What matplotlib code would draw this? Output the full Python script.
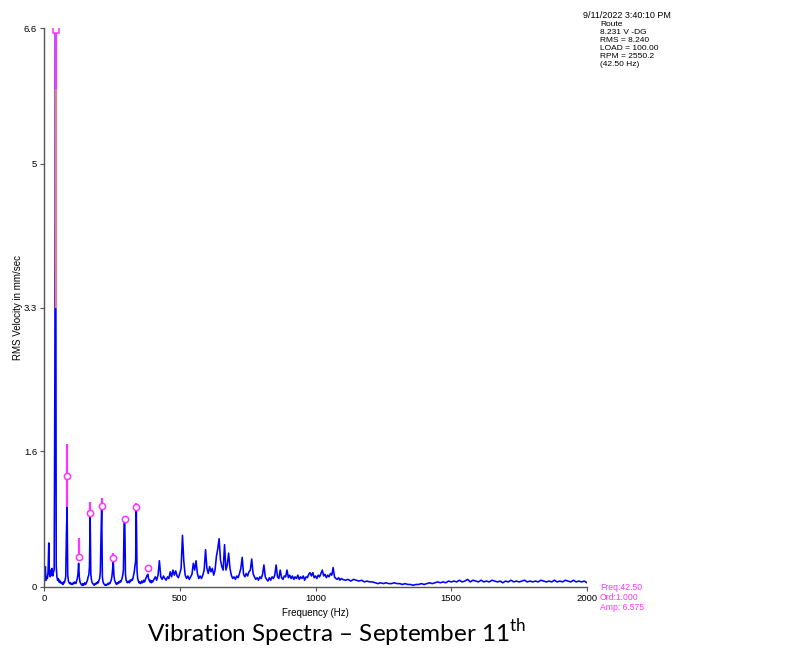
import numpy as np
import matplotlib
matplotlib.use('Agg')
import matplotlib.pyplot as plt

plt.rcParams['font.family'] = ['Liberation Sans', 'DejaVu Sans']
plt.rcParams['mathtext.fontset'] = 'custom'
plt.rcParams['mathtext.rm'] = 'Lato'

# spectrum, 0-400 Hz at 2.5 Hz lines
low_amp = [
    0.02, 0.10, 0.24, 0.08, 0.12, 0.10, 0.18, 0.52, 0.15, 0.12, 0.20, 0.14, 0.22, 0.13, 0.18, 0.20, 2.50, 6.575, 0.25, 0.12,
    0.08, 0.10, 0.06, 0.08, 0.05, 0.06, 0.04, 0.05, 0.03, 0.06, 0.05, 0.08, 0.12, 0.61, 0.94, 0.14, 0.07, 0.05, 0.04, 0.05,
    0.03, 0.04, 0.03, 0.05, 0.04, 0.06, 0.05, 0.04, 0.07, 0.10, 0.15, 0.28, 0.12, 0.06, 0.04, 0.03, 0.02, 0.04, 0.02, 0.03,
    0.05, 0.03, 0.04, 0.06, 0.08, 0.12, 0.14, 0.24, 0.85, 0.15, 0.08, 0.05, 0.04, 0.03, 0.02, 0.04, 0.03, 0.05, 0.04, 0.06,
    0.05, 0.08, 0.10, 0.18, 0.60, 0.95, 0.12, 0.06, 0.04, 0.03, 0.02, 0.03, 0.02, 0.03, 0.04, 0.03, 0.05, 0.04, 0.06, 0.08,
    0.12, 0.20, 0.32, 0.14, 0.08, 0.06, 0.04, 0.03, 0.05, 0.04, 0.06, 0.05, 0.07, 0.06, 0.08, 0.10, 0.14, 0.20, 0.77, 0.79,
    0.15, 0.08, 0.06, 0.05, 0.07, 0.06, 0.05, 0.08, 0.07, 0.09, 0.08, 0.10, 0.14, 0.18, 0.25, 0.30, 0.92, 0.20, 0.10, 0.07,
    0.05, 0.06, 0.04, 0.05, 0.07, 0.05, 0.06, 0.08, 0.06, 0.08, 0.10, 0.12, 0.14, 0.15, 0.10, 0.08, 0.06, 0.08, 0.05, 0.07,
    0.06,
]
low_freq = np.arange(0, 400.1, 2.5)

# 405-1100 Hz, read every 5 Hz
mid_amp = [
    0.09, 0.12, 0.08, 0.14, 0.31, 0.12, 0.09, 0.13, 0.10, 0.08,
    0.12, 0.10, 0.18, 0.12, 0.20, 0.14, 0.19, 0.13, 0.11, 0.16,
    0.22, 0.61, 0.30, 0.14, 0.10, 0.13, 0.09, 0.12, 0.15, 0.28,
    0.20, 0.31, 0.16, 0.10, 0.13, 0.10, 0.14, 0.20, 0.44, 0.22,
    0.16, 0.24, 0.18, 0.22, 0.14, 0.20, 0.36, 0.45, 0.57, 0.32,
    0.24, 0.20, 0.50, 0.20, 0.26, 0.40, 0.22, 0.14, 0.10, 0.12,
    0.09, 0.13, 0.11, 0.16, 0.22, 0.35, 0.15, 0.12, 0.16, 0.13,
    0.18, 0.20, 0.33, 0.16, 0.12, 0.09, 0.11, 0.08, 0.12, 0.10,
    0.15, 0.26, 0.12, 0.09, 0.07, 0.11, 0.08, 0.12, 0.10, 0.14,
    0.26, 0.12, 0.10, 0.20, 0.11, 0.09, 0.13, 0.12, 0.20, 0.11,
    0.14, 0.10, 0.13, 0.09, 0.12, 0.10, 0.14, 0.09, 0.12, 0.10,
    0.13, 0.08, 0.12, 0.11, 0.15, 0.17, 0.13, 0.17, 0.11, 0.13,
    0.10, 0.14, 0.12, 0.16, 0.20, 0.13, 0.15, 0.11, 0.14, 0.12,
    0.16, 0.14, 0.23, 0.12, 0.10, 0.09, 0.11, 0.08, 0.10, 0.09,
]
mid_freq = np.arange(405, 1100.1, 5)

# 1110-2000 Hz, read every 10 Hz
high_amp = [
    0.08, 0.09, 0.07, 0.09, 0.08, 0.07, 0.08, 0.06, 0.07, 0.06,
    0.06, 0.05, 0.04, 0.05, 0.04, 0.05, 0.04, 0.04, 0.05, 0.04,
    0.04, 0.03, 0.04, 0.03, 0.03, 0.02, 0.03, 0.03, 0.04, 0.03,
    0.04, 0.05, 0.04, 0.05, 0.06, 0.05, 0.06, 0.05, 0.07, 0.06,
    0.07, 0.06, 0.08, 0.06, 0.07, 0.09, 0.06, 0.08, 0.07, 0.06,
    0.08, 0.06, 0.07, 0.06, 0.08, 0.07, 0.06, 0.07, 0.05, 0.07,
    0.06, 0.08, 0.06, 0.07, 0.06, 0.07, 0.08, 0.06, 0.07, 0.06,
    0.07, 0.06, 0.08, 0.07, 0.06, 0.07, 0.06, 0.08, 0.06, 0.07,
    0.06, 0.08, 0.07, 0.06, 0.08, 0.06, 0.07, 0.06, 0.07, 0.05,
]
high_freq = np.arange(1110, 2000.1, 10)

# running speed and its harmonics (orders 1..9)
run_speed = 42.5
orders = np.arange(1, 10)
harm_amp = [6.575, 1.31, 0.36, 0.87, 0.96, 0.34, 0.80, 0.94, 0.22]
harm_top = [6.575, 1.69, 0.58, 1.00, 1.05, 0.40, 0.80, 0.99, 0.22]
harm_bot = [5.88, 0.94, 0.36, 0.87, 0.96, 0.34, 0.80, 0.94, 0.22]
main_mid = 3.3   # lower end of the red part of the 1x line

yticks = [0, 1.6, 3.3, 5, 6.6]
ytick_labels = ['0', '1.6', '3.3', '5', '6.6']
xticks = [0, 500, 1000, 1500, 2000]

info_head = '9/11/2022 3:40:10 PM'
info_lines = ['Route', '8.231 V -DG', 'RMS = 8.240', 'LOAD = 100.00', 'RPM = 2550.2', '(42.50 Hz)']
cursor_lines = ['Freq:42.50', 'Ord:1.000', 'Amp: 6.575']

freq = np.concatenate([low_freq, mid_freq, high_freq])
amp = np.concatenate([low_amp, mid_amp, high_amp])

fig = plt.figure(figsize=(7.95, 6.62), dpi=100)
ax = fig.add_axes([44 / 795, 1 - 587 / 662, 543 / 795, 559 / 662])

ax.plot(freq, amp, color='#0000ff', lw=1.15)

hf = orders * run_speed
mag = '#ff33ff'
ax.vlines(hf[0], main_mid, harm_bot[0], color='#f07c7c', lw=1.6, zorder=3)
ax.vlines(hf, harm_bot, harm_top, color=mag, lw=1.6, zorder=3)
ax.plot(hf[:1], harm_amp[:1], 's', ms=4.5, mfc='white', mec=mag, mew=1.1, zorder=4)
ax.plot(hf[1:], harm_amp[1:], 'o', ms=4.5, mfc='white', mec=mag, mew=1.1, zorder=4)

ax.set_xlim(0, 2000)
ax.set_ylim(0, 6.6)
ax.set_xticks(xticks)
ax.set_yticks(yticks)
ax.set_yticklabels(ytick_labels)
ax.tick_params(labelsize=6.8, length=3, width=0.8, color='#555555', pad=2)
for s in ['top', 'right']:
    ax.spines[s].set_visible(False)
for s in ['left', 'bottom']:
    ax.spines[s].set_color('#555555')
    ax.spines[s].set_linewidth(1.0)

ax.set_xlabel('Frequency (Hz)', fontsize=7, labelpad=4)
ax.set_ylabel('RMS Velocity in mm/sec', fontsize=7, labelpad=1)

fig.text(583 / 795, 1 - 15 / 662, info_head, fontsize=6.5, va='center', ha='left')
for i, t in enumerate(info_lines):
    fig.text(600 / 795, 1 - (25 + 7.9 * i) / 662, t, fontsize=6, va='center', ha='left')
for i, t in enumerate(cursor_lines):
    fig.text(600 / 795, 1 - (588 + 9.7 * i) / 662, t, fontsize=6.2, va='center', ha='left', color=mag)

fig.text(337 / 795, 1 - 633 / 662, r'Vibration Spectra – September 11$^{\mathrm{th}}$',
         fontsize=17.5, family='Lato', ha='center', va='center')

fig.savefig('out.png', dpi=100, facecolor='white')
